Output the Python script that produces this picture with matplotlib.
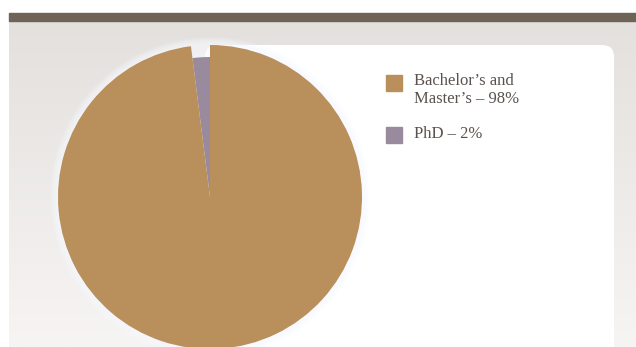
import numpy as np
import matplotlib.pyplot as plt
from matplotlib.colors import LinearSegmentedColormap
from matplotlib.patches import Rectangle, FancyBboxPatch, Circle

labels = ["PhD \u2013 2%", "Bachelor\u2019s and\nMaster\u2019s \u2013 98%"]
shares = [2, 98]
colors = ["#9a8a9d", "#b98f5b"]

W, H = 636, 347
fig = plt.figure(figsize=(W / 100, H / 100), dpi=100)
ax = fig.add_axes([0, 0, 1, 1])
ax.set_xlim(0, W)
ax.set_ylim(0, H)
ax.axis("off")

# background panel with a soft vertical gradient
grad = np.linspace(0, 1, 256).reshape(-1, 1)
bg = LinearSegmentedColormap.from_list("bg", ["#f7f5f4", "#e3e0dd"])
ax.imshow(grad, extent=(9, W, 0, H - 21), cmap=bg, aspect="auto", zorder=0, origin="lower")
ax.add_patch(Rectangle((9, H - 21), W - 9, 8, color="#6f6358", zorder=1))
ax.add_patch(FancyBboxPatch((205, -20), 409, H - 45 + 20, boxstyle="round,pad=0,rounding_size=12",
                            fc="white", ec="none", zorder=1))

cx, cy, r = 210, 150, 152

# faint glow around the pie
for k in range(6, 0, -1):
    ax.add_patch(Circle((cx, cy), r + k * 1.3, fc="#f8faff", ec="none", alpha=0.18, zorder=2))

wedges, _ = ax.pie(shares, colors=colors, startangle=90, counterclock=True,
                   center=(cx, cy), radius=r, frame=True,
                   wedgeprops=dict(linewidth=0))
for w in wedges:
    w.set_zorder(3)
wedges[0].set_radius(r - 12)
ax.set_xlim(0, W)
ax.set_ylim(0, H)
ax.set_aspect("auto")

# legend
font = dict(family="Liberation Serif", fontsize=12, color="#5a524e")
ax.add_patch(Rectangle((386, H - 91), 16, 16, color=colors[1], zorder=4))
ax.text(414, H - 73, labels[1], va="top", linespacing=1.15, zorder=4, **font)
ax.add_patch(Rectangle((386, H - 143), 16, 16, color=colors[0], zorder=4))
ax.text(414, H - 126, labels[0], va="top", zorder=4, **font)

fig.savefig("out.png", dpi=100)
